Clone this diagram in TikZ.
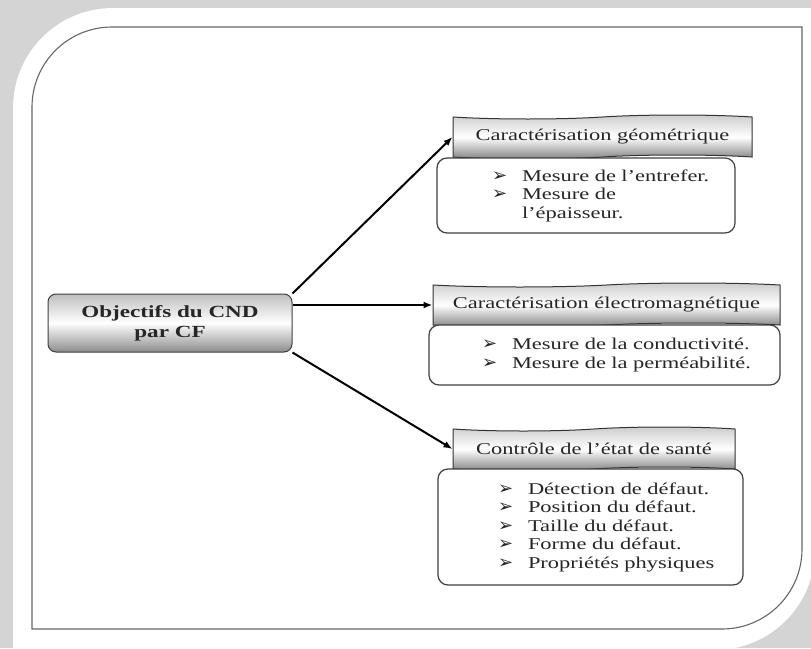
\documentclass[tikz,border=0pt]{standalone}
\usepackage{fontspec}
\setmainfont{Liberation Serif}[FakeStretch=1.36]
\newfontfamily\puces{DejaVu Sans}
\usetikzlibrary{arrows.meta, shapes.symbols}

\newcommand{\fleche}{\makebox[30pt][l]{\puces\fontsize{18}{18}\selectfont ➢}}

\begin{document}
\begin{tikzpicture}[x=1pt, y=-1pt,
    fond/.style={fill=black!17},
    cadre/.style={draw=black!60, line width=1.1pt},
    mainbox/.style={rectangle, rounded corners=8pt, draw=black!75, line width=1pt, top color=black!25, bottom color=black!45, middle color=white, minimum width=244pt, minimum height=58pt, align=center, text=black!85, font=\fontsize{17}{20}\selectfont\bfseries},
    titlebox/.style={tape, tape bend top=in and out, tape bend bottom=in and out, tape bend height=4pt, draw=black!80, line width=1pt, top color=black!20, bottom color=black!50, middle color=white, minimum height=44pt, inner xsep=0pt, text=black!85, font=\fontsize{16.5}{18.5}\selectfont},
    listbox/.style={rectangle, rounded corners=10pt, draw=black!75, line width=1.2pt, fill=white, inner xsep=0pt, align=left, text=black!85, font=\fontsize{16.5}{18.5}\selectfont},
    arrow/.style={-{Latex[length=9pt, width=7pt]}, line width=2pt}
  ]
    % Fond et cadre
    \clip (0,0) rectangle (811,648);
    \fill[fond] (0,0) rectangle (811,648);
    \fill[white] (13,650) -- (13,108) .. controls (13,52.8) and (57.8,8) .. (113,8) -- (815,8) -- (815,550) .. controls (815,605.2) and (770.2,650) .. (715,650) -- cycle;
    \draw[cadre] (112,27) -- (802,27) -- (802,549) .. controls (802,593.2) and (766.2,629) .. (722,629) -- (32,629) -- (32,107) .. controls (32,62.8) and (67.8,27) .. (112,27) -- cycle;

    % Noeuds
    \node[mainbox] (main) at (170,323) {Objectifs du CND\\par CF};

    \node[titlebox, minimum width=299pt] (t1) at (602.5,137) {Caractérisation géométrique};
    \node[listbox, text width=298pt, minimum height=75pt] (l1) at (586,195.5) {\hspace*{55pt}\fleche Mesure de l’entrefer.\\ \hspace*{55pt}\fleche Mesure de\\ \hspace*{55pt}\phantom{\fleche}l’épaisseur.};

    \node[titlebox, minimum width=347pt] (t2) at (606.5,305) {Caractérisation électromagnétique};
    \node[listbox, text width=351pt, minimum height=60pt] (l2) at (604.5,355) {\hspace*{53pt}\fleche Mesure de la conductivité.\\ \hspace*{53pt}\fleche Mesure de la perméabilité.};

    \node[titlebox, minimum width=282pt] (t3) at (594,449) {Contrôle de l’état de santé};
    \node[listbox, text width=305pt, minimum height=116pt] (l3) at (590.5,527) {\hspace*{60pt}\fleche Détection de défaut.\\ \hspace*{60pt}\fleche Position du défaut.\\ \hspace*{60pt}\fleche Taille du défaut.\\ \hspace*{60pt}\fleche Forme du défaut.\\ \hspace*{60pt}\fleche Propriétés physiques};

    % Fleches
    \draw[arrow] (main.north east) -- (t1.west);
    \draw[arrow] (main.east |- t2.west) -- (t2.west);
    \draw[arrow] (main.south east) -- (t3.west);
\end{tikzpicture}
\end{document}
